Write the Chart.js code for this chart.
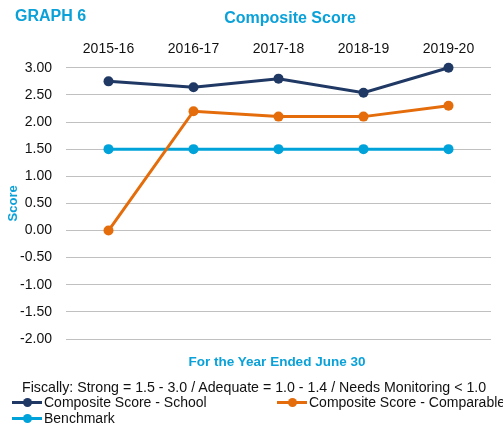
<!DOCTYPE html>
<html>
<head>
<meta charset="utf-8">
<script src="https://cdn.jsdelivr.net/npm/chart.js@4/dist/chart.umd.min.js"></script>
<style>
    body { margin: 0; background: #fff; font-family: "Liberation Sans", Arial, sans-serif; }
    #wrap { position: relative; width: 503px; height: 424px; }
    #wrap canvas { position: absolute; left: 0; top: 0; }
    .txt { position: absolute; white-space: nowrap; line-height: 1; }
    .blue { color: #0aa1d9; font-weight: bold; }
    #legend { position: absolute; left: 12px; top: 394px; width: 491px; font-size: 14px; color: #111; }
    .item { position: absolute; white-space: nowrap; height: 16px; line-height: 16px; }
    .sw { display: inline-block; position: relative; width: 30px; height: 16px; vertical-align: top; margin-right: 2px; }
    .sw .ln { position: absolute; left: 0; right: 0; top: 7px; height: 3px; }
    .sw .dot { position: absolute; left: 11px; top: 4px; width: 9px; height: 9px; border-radius: 50%; }
</style>
</head>
<body>
<div id="wrap">
    <canvas id="linechart" width="503" height="424"></canvas>
    <div class="txt blue" style="left:15px; top:8px; font-size:16px;">GRAPH 6</div>
    <div class="txt blue" style="left:290px; top:10px; font-size:16px; transform:translateX(-50%);">Composite Score</div>
    <div class="txt blue" style="left:277px; top:355px; font-size:13.5px; transform:translateX(-50%);">For the Year Ended June 30</div>
    <div class="txt" style="left:22px; top:380px; font-size:14.2px; color:#111;">Fiscally: Strong = 1.5 - 3.0 / Adequate = 1.0 - 1.4 / Needs Monitoring &lt; 1.0</div>
    <div id="legend"></div>
</div>
<script>
const years = ['2015-16', '2016-17', '2017-18', '2018-19', '2019-20'];
const schoolScores = [2.75, 2.64, 2.80, 2.54, 3.00];
const comparableScores = [0.00, 2.20, 2.10, 2.10, 2.30];
const benchmarkScores = [1.50, 1.50, 1.50, 1.50, 1.50];
const seriesNames = ['Composite Score - School', 'Composite Score - Comparable', 'Benchmark'];
const seriesColors = ['#1f3864', '#e46c0a', '#00a2da'];

function makeSet(i, values) {
    return {
        label: seriesNames[i],
        data: values,
        borderColor: seriesColors[i],
        backgroundColor: seriesColors[i],
        borderWidth: 3,
        pointRadius: 5,
        pointBorderWidth: 0,
        tension: 0,
        clip: false
    };
}

const ctx = document.getElementById('linechart');
new Chart(ctx, {
    type: 'line',
    data: {
        labels: years,
        datasets: [
            makeSet(0, schoolScores),
            makeSet(1, comparableScores),
            makeSet(2, benchmarkScores)
        ]
    },
    options: {
        responsive: false,
        animation: false,
        layout: { padding: { left: 6, right: 12, top: 39, bottom: 85 } },
        plugins: {
            legend: { display: false },
            tooltip: { enabled: false }
        },
        scales: {
            x: {
                position: 'top',
                offset: true,
                grid: { display: false },
                border: { display: false },
                ticks: { color: '#111', font: { family: 'Liberation Sans', size: 14 }, padding: 2 }
            },
            y: {
                min: -2,
                max: 3,
                grid: { color: '#c0c0c0', lineWidth: 1, drawTicks: false },
                border: { display: false },
                ticks: {
                    stepSize: 0.5,
                    color: '#111',
                    padding: 14,
                    font: { family: 'Liberation Sans', size: 14 },
                    callback: (v) => v.toFixed(2)
                },
                title: {
                    display: true,
                    text: 'Score',
                    color: '#0aa1d9',
                    padding: 0,
                    font: { family: 'Liberation Sans', size: 13, weight: 'bold' }
                },
                // keep the plot's left edge at x = 66
                afterFit: (scale) => { scale.width = 60; }
            }
        }
    }
});

// legend: two columns, line with a dot like the plotted series
const legendPos = [[0, 0], [265, 0], [0, 16]];
const legendEl = document.getElementById('legend');
seriesNames.forEach((name, i) => {
    const item = document.createElement('div');
    item.className = 'item';
    item.style.left = legendPos[i][0] + 'px';
    item.style.top = legendPos[i][1] + 'px';
    item.innerHTML = '<span class="sw"><span class="ln" style="background:' + seriesColors[i] + '"></span>' +
        '<span class="dot" style="background:' + seriesColors[i] + '"></span></span>' + name;
    legendEl.appendChild(item);
});
</script>
</body>
</html>
